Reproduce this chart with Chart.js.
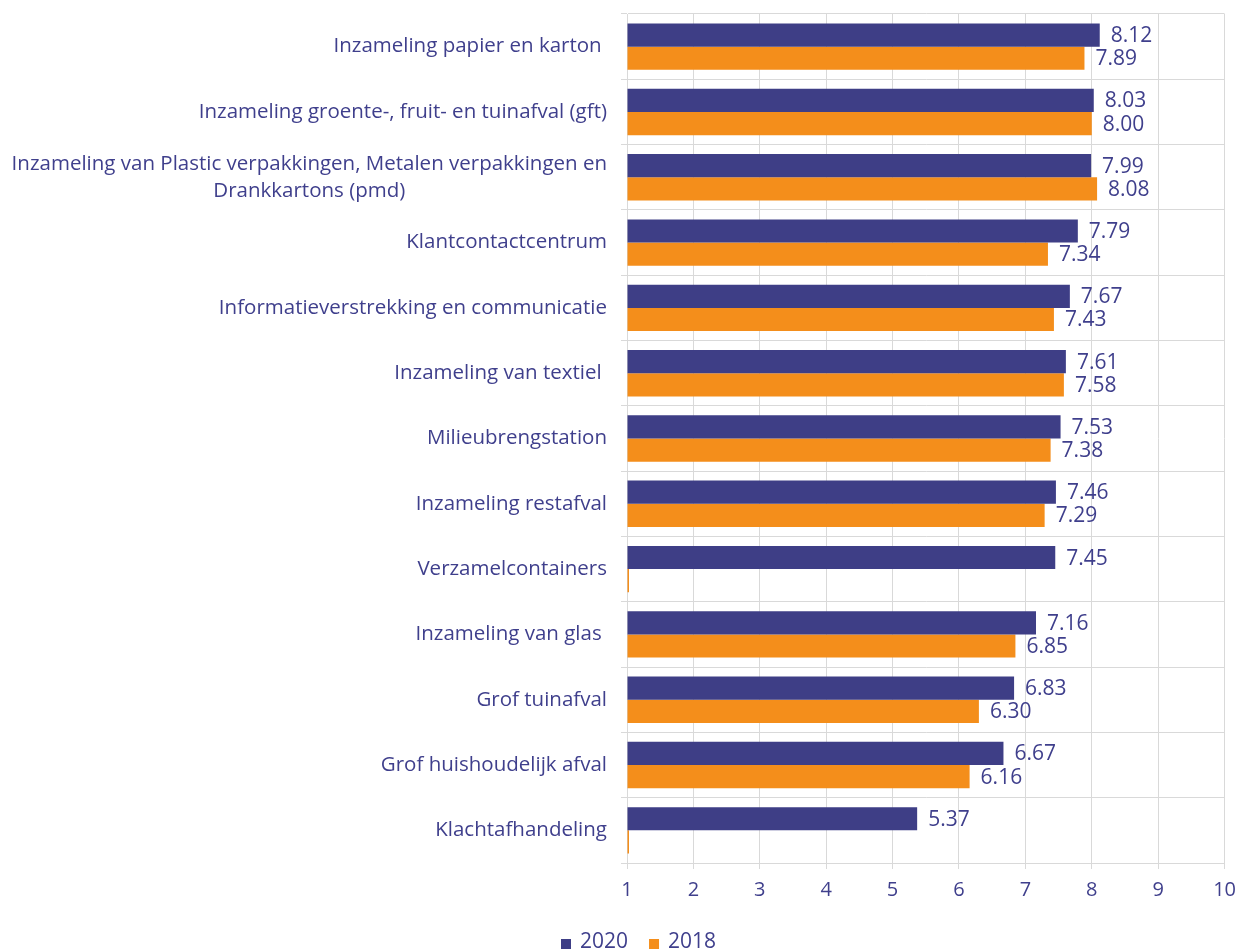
<!DOCTYPE html>
<html>
<head>
<meta charset="utf-8">
<script src="https://cdn.jsdelivr.net/npm/chart.js@4/dist/chart.umd.min.js"></script>
<style>
  html, body { margin: 0; padding: 0; background: #fff; }
  #wrap { width: 1245px; height: 951px; }
</style>
</head>
<body>
<div id="wrap"><canvas id="grafiek"></canvas></div>
<script>
const categorieen = [
  "Inzameling papier en karton ",
  "Inzameling groente-, fruit- en tuinafval (gft)",
  ["Inzameling van Plastic verpakkingen, Metalen verpakkingen en", "Drankkartons (pmd)"],
  "Klantcontactcentrum",
  "Informatieverstrekking en communicatie",
  "Inzameling van textiel ",
  "Milieubrengstation",
  "Inzameling restafval",
  "Verzamelcontainers",
  "Inzameling van glas ",
  "Grof tuinafval",
  "Grof huishoudelijk afval",
  "Klachtafhandeling"
];
const waarden2020 = [8.12, 8.03, 7.99, 7.79, 7.67, 7.61, 7.53, 7.46, 7.45, 7.16, 6.83, 6.67, 5.37];
// geen meting in 2018 voor verzamelcontainers en klachtafhandeling -> 1 (basis)
const waarden2018 = [7.89, 8.00, 8.08, 7.34, 7.43, 7.58, 7.38, 7.29, 1, 6.85, 6.30, 6.16, 1];
const xTicks = [1, 2, 3, 4, 5, 6, 7, 8, 9, 10];
const reeksNamen = ["2020", "2018"];
const reeksKleuren = ["#3e3e86", "#f48e1b"];

const tekstKleur = "#3f3f8c";
const lettertype = "'Open Sans', 'Noto Sans', sans-serif";

// waarden naast de balken
const waardeLabels = {
  id: "waardeLabels",
  afterDatasetsDraw(chart) {
    const ctx = chart.ctx;
    ctx.save();
    ctx.font = "21px " + lettertype;
    ctx.fillStyle = tekstKleur;
    ctx.textAlign = "left";
    ctx.textBaseline = "middle";
    chart.data.datasets.forEach((ds, i) => {
      chart.getDatasetMeta(i).data.forEach((bar, j) => {
        const v = ds.data[j];
        if (v == null || v <= 1) return;
        ctx.fillText(v.toFixed(2), bar.x + 11, bar.y + 1);
      });
    });
    ctx.restore();
  }
};

// categorie-labels: per label gecentreerd op de breedste regel, rechts uitgelijnd
const categorieLabels = {
  id: "categorieLabels",
  afterDraw(chart) {
    const ctx = chart.ctx;
    const y = chart.scales.y;
    const rechts = y.left - 14;
    const regelHoogte = 27;
    ctx.save();
    ctx.font = "20.5px " + lettertype;
    ctx.fillStyle = tekstKleur;
    ctx.textAlign = "center";
    ctx.textBaseline = "middle";
    categorieen.forEach((lab, i) => {
      const regels = Array.isArray(lab) ? lab : [lab];
      const breed = Math.max(...regels.map(r => ctx.measureText(r).width));
      const cx = rechts - breed / 2;
      const cy = y.getPixelForTick(i);
      regels.forEach((r, k) => {
        ctx.fillText(r, cx, cy + (k - (regels.length - 1) / 2) * regelHoogte);
      });
    });
    ctx.restore();
  }
};

// legenda onderaan, zoals in het origineel
const legenda = {
  id: "legenda",
  afterDraw(chart) {
    const ctx = chart.ctx;
    ctx.save();
    ctx.font = "21px " + lettertype;
    ctx.textBaseline = "middle";
    ctx.textAlign = "left";
    let x = 561;
    const y = 942;
    reeksNamen.forEach((naam, i) => {
      ctx.fillStyle = reeksKleuren[i];
      ctx.fillRect(x, y - 3, 10, 10);
      ctx.fillStyle = tekstKleur;
      ctx.fillText(naam, x + 19, y);
      x += 19 + ctx.measureText(naam).width + 21;
    });
    ctx.restore();
  }
};

new Chart(document.getElementById("grafiek"), {
  type: "bar",
  data: {
    labels: categorieen,
    datasets: [
      {
        label: reeksNamen[0],
        data: waarden2020,
        backgroundColor: reeksKleuren[0],
        base: 1,
        categoryPercentage: 0.71,
        barPercentage: 1
      },
      {
        label: reeksNamen[1],
        data: waarden2018,
        backgroundColor: reeksKleuren[1],
        base: 1,
        minBarLength: 2,
        clip: false,
        categoryPercentage: 0.71,
        barPercentage: 1
      }
    ]
  },
  options: {
    indexAxis: "y",
    responsive: true,
    maintainAspectRatio: false,
    animation: false,
    layout: { padding: { left: 621, right: 15, top: 14, bottom: 40 } },
    plugins: {
      legend: { display: false },
      tooltip: { enabled: false }
    },
    scales: {
      x: {
        min: 1,
        max: 10,
        afterBuildTicks: s => { s.ticks = xTicks.map(v => ({ value: v })); },
        grid: { color: "#d9d9d9", tickLength: 6 },
        border: { color: "#d9d9d9" },
        ticks: {
          color: tekstKleur,
          font: { size: 20, family: lettertype },
          padding: 9
        }
      },
      y: {
        grid: { color: "#d9d9d9", tickLength: 6, offset: true },
        border: { color: "#d9d9d9" },
        ticks: { display: false }
      }
    }
  },
  plugins: [waardeLabels, categorieLabels, legenda]
});
</script>
</body>
</html>
